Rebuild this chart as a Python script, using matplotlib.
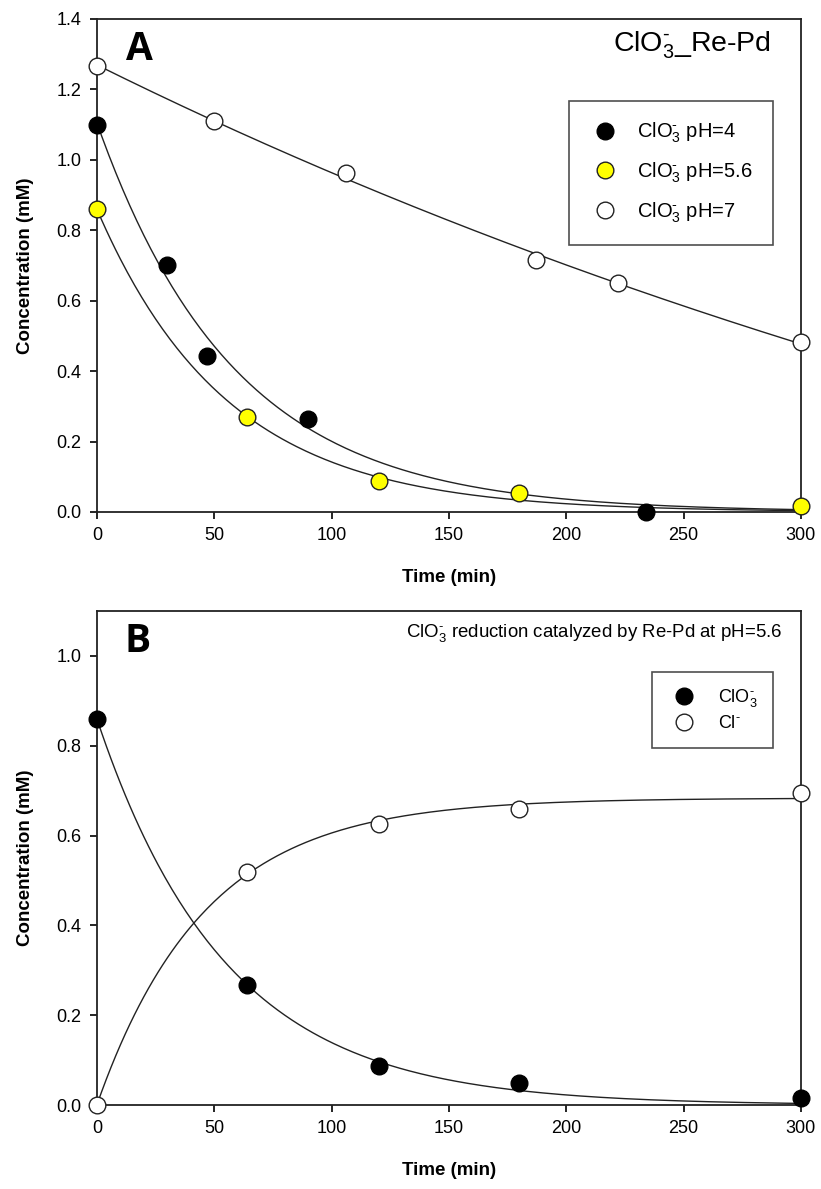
import numpy as np
import matplotlib
matplotlib.use('Agg')
import matplotlib.pyplot as plt

plt.rcParams['font.family'] = ['Liberation Sans', 'DejaVu Sans']
plt.rcParams['mathtext.fontset'] = 'custom'
plt.rcParams['mathtext.rm'] = 'Liberation Sans'
plt.rcParams['mathtext.it'] = 'Liberation Sans:italic'
plt.rcParams['mathtext.bf'] = 'Liberation Sans:bold'

# panel A: chlorate at three pH values
t_ph4 = [0, 30, 47, 90, 234]
c_ph4 = [1.10, 0.70, 0.443, 0.264, 0.0]
t_ph56 = [0, 64, 120, 180, 300]
c_ph56 = [0.86, 0.271, 0.088, 0.053, 0.017]
t_ph7 = [0, 50, 106, 187, 222, 300]
c_ph7 = [1.265, 1.111, 0.962, 0.715, 0.65, 0.482]

# panel B: chlorate and chloride at pH 5.6
t_b = [0, 64, 120, 180, 300]
c_clo3 = [0.86, 0.268, 0.087, 0.05, 0.015]
c_cl = [0.0, 0.52, 0.625, 0.66, 0.695]

lbl_a = [r'ClO$_3^{\text{-}}$ pH=4', r'ClO$_3^{\text{-}}$ pH=5.6', r'ClO$_3^{\text{-}}$ pH=7']
lbl_b = [r'ClO$_3^{\text{-}}$', r'Cl$^{\text{-}}$']


# fit y = a*exp(-k t) + c  (grid over k, least squares for a, c)
def expfit(t, y, offset=True):
    t = np.asarray(t, float)
    y = np.asarray(y, float)
    best = None
    for k in np.linspace(0.0005, 0.08, 4000):
        e = np.exp(-k * t)
        if offset:
            A = np.column_stack([e, np.ones_like(t)])
        else:
            A = e[:, None]
        p, *_ = np.linalg.lstsq(A, y, rcond=None)
        r = np.sum((A @ p - y) ** 2)
        if best is None or r < best[0]:
            best = (r, k, p)
    _, k, p = best
    tt = np.linspace(0, 300, 301)
    yy = p[0] * np.exp(-k * tt)
    if offset:
        yy = yy + p[1]
    return tt, yy


def style(ax, ymax, yticks):
    ax.set_xlim(0, 300)
    ax.set_ylim(0, ymax)
    ax.set_xticks([0, 50, 100, 150, 200, 250, 300])
    ax.set_yticks(yticks)
    ax.set_yticklabels(['%.1f' % v for v in yticks])
    ax.tick_params(direction='out', length=5, width=1.2, labelsize=13,
                   top=False, right=False, pad=6)
    for s in ax.spines.values():
        s.set_linewidth(1.3)
        s.set_color('#222222')
    ax.set_xlabel('Time (min)', fontsize=13.5, fontweight='bold', labelpad=18)
    ax.set_ylabel('Concentration (mM)', fontsize=13.5, fontweight='bold', labelpad=16)


fig = plt.figure(figsize=(8.21, 11.89), dpi=100)
axA = fig.add_axes([0.1181, 0.5694, 0.8575, 0.4147])
axB = fig.add_axes([0.1181, 0.0706, 0.8575, 0.4155])

ms = 12
# ---- A ----
for t, c in [(t_ph4, c_ph4), (t_ph56, c_ph56)]:
    tt, yy = expfit(t, c, offset=False)
    axA.plot(tt, yy, color='#222222', lw=1)
tt, yy = expfit(t_ph7, c_ph7, offset=True)
axA.plot(tt, yy, color='#222222', lw=1)

axA.plot(t_ph4, c_ph4, 'o', ms=ms, mfc='black', mec='black', mew=1,
         label=lbl_a[0], clip_on=False, zorder=5)
axA.plot(t_ph56, c_ph56, 'o', ms=ms, mfc='#ffff00', mec='#222222', mew=1,
         label=lbl_a[1], clip_on=False, zorder=5)
axA.plot(t_ph7, c_ph7, 'o', ms=ms, mfc='white', mec='#222222', mew=1,
         label=lbl_a[2], clip_on=False, zorder=5)
style(axA, 1.4, [0.0, 0.2, 0.4, 0.6, 0.8, 1.0, 1.2, 1.4])

legA = axA.legend(loc='upper right', bbox_to_anchor=(0.960, 0.834), borderaxespad=0,
                  fontsize=14.5, frameon=True, fancybox=False, edgecolor='#222222',
                  borderpad=1.0, labelspacing=0.75, handletextpad=0.8,
                  handlelength=1.6, markerscale=1.0)
legA.get_frame().set_linewidth(1.2)
axA.text(0.957, 0.947, r'ClO$_3^{\text{-}}$_Re-Pd', transform=axA.transAxes,
         ha='right', va='center', fontsize=20.5)
axA.text(0.061, 0.937, 'A', transform=axA.transAxes, ha='center', va='center',
         fontsize=28, fontweight='bold', family=['Open Sans', 'DejaVu Sans'])

# ---- B ----
tt, yy = expfit(t_b, c_clo3, offset=False)
axB.plot(tt, yy, color='#222222', lw=1)
tt, yy = expfit(t_b, c_cl, offset=True)
axB.plot(tt, yy, color='#222222', lw=1)
axB.plot(t_b, c_clo3, 'o', ms=ms, mfc='black', mec='black', mew=1,
         label=lbl_b[0], clip_on=False, zorder=5)
axB.plot(t_b, c_cl, 'o', ms=ms, mfc='white', mec='#222222', mew=1,
         label=lbl_b[1], clip_on=False, zorder=5)
style(axB, 1.1, [0.0, 0.2, 0.4, 0.6, 0.8, 1.0])

legB = axB.legend(loc='upper right', bbox_to_anchor=(0.960, 0.877), borderaxespad=0,
                  fontsize=13, frameon=True, fancybox=False, edgecolor='#222222',
                  borderpad=0.85, labelspacing=0.35, handletextpad=0.9,
                  handlelength=1.9, markerscale=1.0)
legB.get_frame().set_linewidth(1.2)
axB.text(0.974, 0.955, r'ClO$_3^{\text{-}}$ reduction catalyzed by Re-Pd at pH=5.6',
         transform=axB.transAxes, ha='right', va='center', fontsize=13.4)
axB.text(0.058, 0.939, 'B', transform=axB.transAxes, ha='center', va='center',
         fontsize=28, fontweight='bold', family=['Open Sans', 'DejaVu Sans'])

fig.savefig('out.png', dpi=100)
